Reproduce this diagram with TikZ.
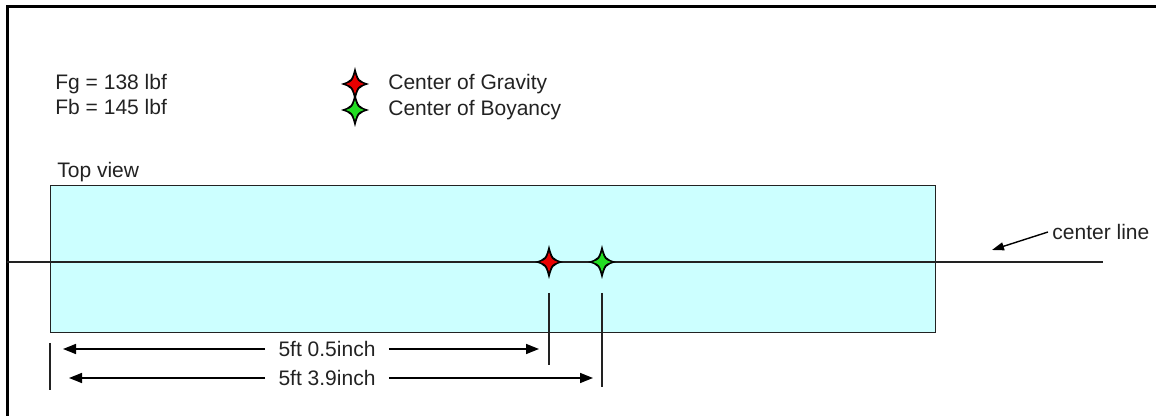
\documentclass[tikz,border=0pt]{standalone}
\usepackage{fontspec}
\setmainfont{Liberation Sans}
\usepackage{tikz}
\usetikzlibrary{arrows.meta,positioning,calc}
\definecolor{hullcyan}{HTML}{CCFFFF}
\definecolor{cgred}{HTML}{E80000}
\definecolor{cbgreen}{HTML}{22DD22}
\definecolor{inkgray}{HTML}{222222}

\begin{document}
\begin{tikzpicture}[x=0.5pt, y=-0.5pt,
    lbl/.style={inner sep=0pt, anchor=base west, font=\fontsize{10.5}{12}\selectfont, text=inkgray},
    dimlbl/.style={inner xsep=6.5pt, inner ysep=0pt, font=\fontsize{10.5}{12}\selectfont, text=inkgray},
    hullbox/.style={draw=inkgray, fill=hullcyan, line width=0.7pt, minimum width=442.5pt, minimum height=73.5pt, anchor=north west, inner sep=0pt},
    darrow/.style={-{Triangle[length=6.5pt, width=5pt]}, line width=0.75pt, color=black},
    clarrow/.style={-{Triangle[length=6pt, width=4pt]}, line width=0.7pt, color=black},
    cstar/.pic={
      \fill[black] (0,-17) .. controls (3.5,-3.5) .. (14,0) .. controls (3.5,3.5) .. (0,17) .. controls (-3.5,3.5) .. (-14,0) .. controls (-3.5,-3.5) .. cycle;
      \path[pic actions] (0,-10) .. controls (2.5,-2.5) .. (9,0) .. controls (2.5,2.5) .. (0,10) .. controls (-2.5,2.5) .. (-9,0) .. controls (-2.5,-2.5) .. cycle;
    }
]
\useasboundingbox (0,0) rectangle (1156,416);

% frame
\draw[line width=1.5pt] (7,416) -- (7,7) -- (1156,7);

% forces and legend
\node[lbl] (fg) at (55,90) {Fg = 138 lbf};
\node[lbl] (fb) at (55,115) {Fb = 145 lbf};
\coordinate (legcg) at (355,84);
\coordinate (legcb) at (355,110);
\pic[fill=cgred] at (legcg) {cstar};
\pic[fill=cbgreen] at (legcb) {cstar};
\node[lbl] (txtcg) at (388,90) {Center of Gravity};
\node[lbl] (txtcb) at (388,116) {Center of Boyancy};

% top view
\node[lbl] (topview) at (57,178) {Top view};
\node[hullbox] (hull) at (50,185) {};
\draw[line width=0.8pt, inkgray] (7,262) -- (1103,262);
\node[lbl, anchor=west, inner sep=2pt] (cl) at (1048,232) {center line};
\coordinate (clpt) at (992,250);
\draw[clarrow] (cl.west) -- (clpt);

\coordinate (cg) at (549,262);
\coordinate (cb) at (602,262);
\pic[fill=cgred] at (cg) {cstar};
\pic[fill=cbgreen] at (cb) {cstar};

% dimensions
\draw[line width=0.7pt, inkgray] (50,343) -- (50,390);
\draw[line width=0.7pt, inkgray] (549,293) -- (549,365);
\draw[line width=0.7pt, inkgray] (602,293) -- (602,387);
\node[dimlbl] (dimcg) at (327,349) {5ft 0.5inch};
\node[dimlbl] (dimcb) at (327,378) {5ft 3.9inch};
\draw[darrow] (dimcg.west) -- (63,349);
\draw[darrow] (dimcg.east) -- (539,349);
\draw[darrow] (dimcb.west) -- (69,378);
\draw[darrow] (dimcb.east) -- (593,378);

\end{tikzpicture}
\end{document}
